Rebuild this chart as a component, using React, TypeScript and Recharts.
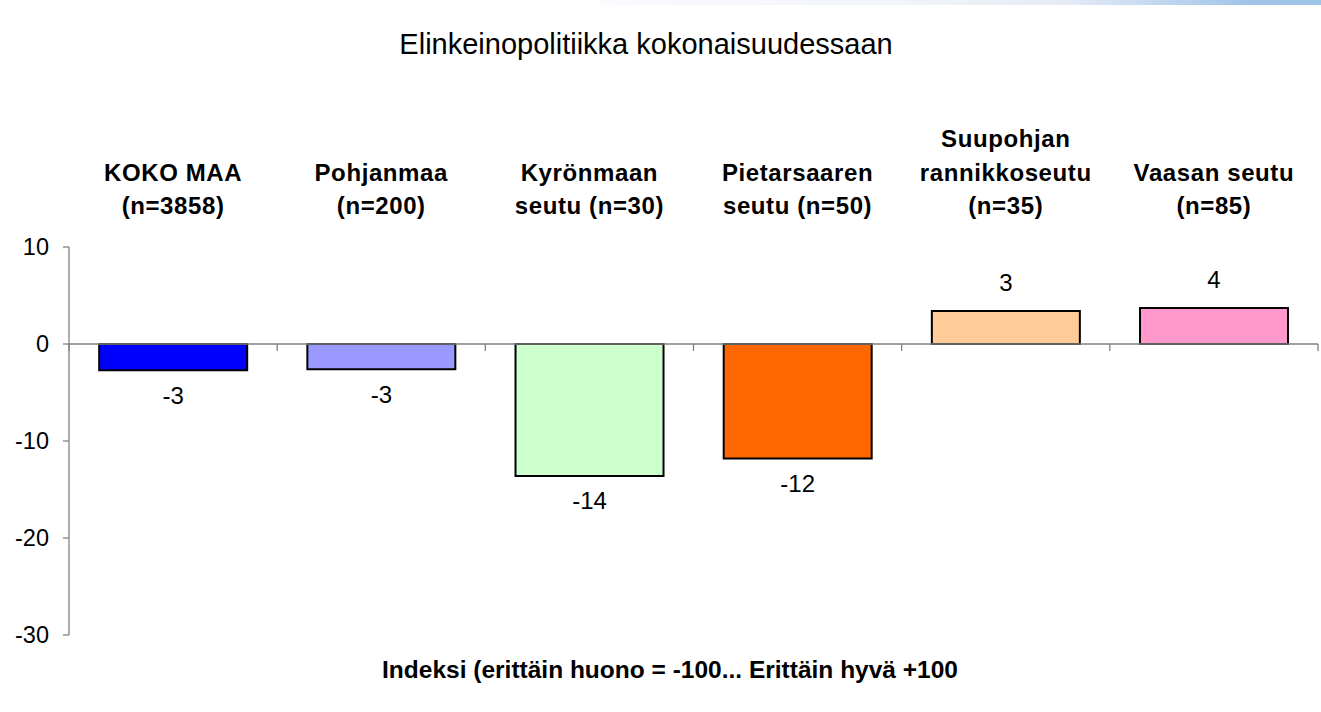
import { Bar, BarChart, Cell, LabelList, ReferenceLine, XAxis, YAxis } from "recharts";

const FONT = "Arial, 'Liberation Sans', sans-serif";

const categories = [
  "KOKO MAA\n(n=3858)",
  "Pohjanmaa\n(n=200)",
  "Kyrönmaan\nseutu (n=30)",
  "Pietarsaaren\nseutu (n=50)",
  "Suupohjan\nrannikkoseutu\n(n=35)",
  "Vaasan seutu\n(n=85)",
];
const indexValues = [-2.7, -2.6, -13.6, -11.8, 3.4, 3.7];
const barColors = ["#0000FF", "#9999FF", "#CCFFCC", "#FF6600", "#FFCC99", "#FF99CC"];
const yTicks = [-30, -20, -10, 0, 10];

const data = categories.map((name, i) => ({ name, value: indexValues[i] }));

// multi-line bold category heading, bottom line sits just above the plot
function CategoryTick({ x, y, payload }: any) {
  const lines = String(payload.value).split("\n");
  const lineH = 33.5;
  const lastBase = y - 33;
  return (
    <text textAnchor="middle" fontFamily={FONT} fontWeight="bold" fontSize={24} letterSpacing={0.6} fill="#000">
      {lines.map((l, i) => (
        <tspan key={i} x={x} y={lastBase - (lines.length - 1 - i) * lineH}>
          {l}
        </tspan>
      ))}
    </text>
  );
}

// zero line with the little category-boundary ticks hanging below it
function ZeroAxis({ x1, y1, x2 }: any) {
  const n = categories.length;
  const step = (x2 - x1) / n;
  return (
    <g stroke="#808080" strokeWidth={1.3}>
      <line x1={x1} y1={y1} x2={x2} y2={y1} />
      {Array.from({ length: n + 1 }, (_, i) => (
        <line key={i} x1={x1 + i * step} y1={y1} x2={x1 + i * step} y2={y1 + 7} />
      ))}
    </g>
  );
}

function ValueLabel({ x, y, width, height, value }: any) {
  const top = Math.min(y, y + height);
  const bottom = Math.max(y, y + height);
  const cy = value < 0 ? bottom + 25 : top - 29;
  return (
    <text x={x + width / 2} y={cy} textAnchor="middle" dominantBaseline="central" fontFamily={FONT} fontSize={24} fill="#000">
      {Math.round(value)}
    </text>
  );
}

export default function App() {
  return (
    <div style={{ position: "fixed", left: 0, top: 0, width: 1321, height: 712, background: "#fff", fontFamily: FONT }}>
      <div
        style={{
          position: "absolute",
          left: 600,
          top: 0,
          width: 721,
          height: 5,
          background: "linear-gradient(to right, #fafaff 0%, #f0f4f8 45%, #e4ebf6 65%, #a0c4e8 90%, #9cc3e8 100%)",
        }}
      />
      <div style={{ position: "absolute", left: 0, width: 1292, top: 28, textAlign: "center", fontSize: 29, color: "#000" }}>
        Elinkeinopolitiikka kokonaisuudessaan
      </div>
      <div
        style={{ position: "absolute", left: 0, width: 1340, top: 656, textAlign: "center", fontSize: 24.5, fontWeight: "bold", color: "#000" }}
      >
        Indeksi (erittäin huono = -100... Erittäin hyvä +100
      </div>
      <div style={{ position: "absolute", left: 0, top: 0 }}>
        <BarChart width={1321} height={712} data={data} margin={{ top: 0, right: 3, bottom: 77, left: 0 }} barCategoryGap="14.5%">
          <XAxis
            dataKey="name"
            orientation="top"
            height={247}
            axisLine={false}
            tickLine={false}
            tickSize={0}
            tickMargin={0}
            interval={0}
            tick={<CategoryTick />}
          />
          <YAxis
            domain={[-30, 10]}
            ticks={yTicks}
            width={69}
            tickSize={6}
            tickMargin={14}
            axisLine={{ stroke: "#808080", strokeWidth: 1.3 }}
            tickLine={{ stroke: "#808080", strokeWidth: 1.3 }}
            tick={{ fill: "#000", fontSize: 23.5, fontFamily: FONT }}
          />
          <Bar dataKey="value" stroke="#000" strokeWidth={2} isAnimationActive={false}>
            {data.map((_, i) => (
              <Cell key={i} fill={barColors[i]} />
            ))}
            <LabelList dataKey="value" content={<ValueLabel />} />
          </Bar>
          <ReferenceLine y={0} shape={<ZeroAxis />} />
        </BarChart>
      </div>
    </div>
  );
}
